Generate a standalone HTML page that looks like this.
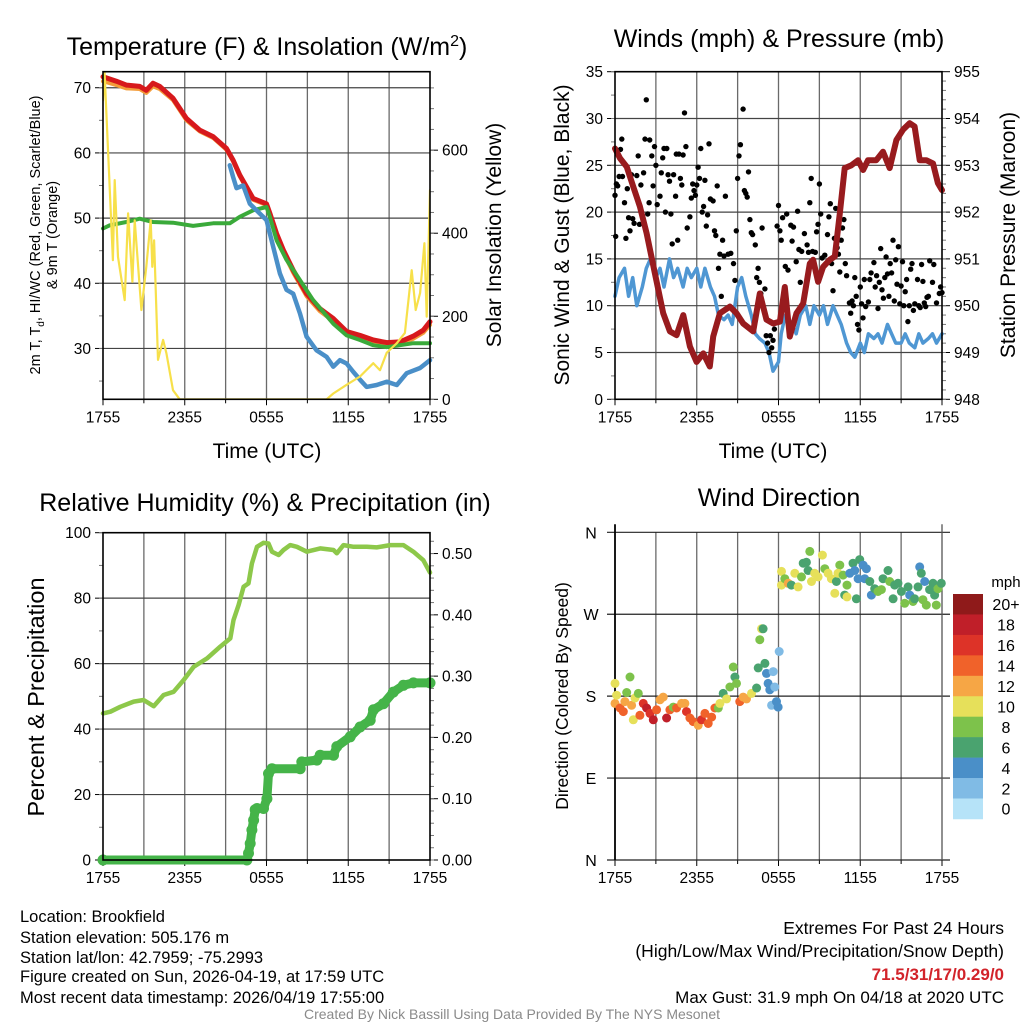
<!DOCTYPE html>
<html><head><meta charset="utf-8"><title>Brookfield Meteogram</title>
<style>
html,body{margin:0;padding:0;background:#fff;}
svg{display:block;font-family:"Liberation Sans",sans-serif;}
.tk{font-size:15.5px;fill:#000;}
.ttl{font-size:25px;fill:#000;}
.lab{font-size:21px;fill:#000;}
.info{font-size:16.5px;fill:#000;}
</style></head>
<body>
<svg id="chart" width="1024" height="1024" viewBox="0 0 1024 1024" xmlns="http://www.w3.org/2000/svg"></svg>
<script>
// ---------- DATA ----------
const timeTickLabels = ["1755","2355","0555","1155","1755"];
const timeTickHours = [0,6,12,18,24];
// Panel 1: temperature (F)
const tempT = [0,0.98,1.71,2.69,3.18,3.67,4.16,5.14,6.12,7.10,8.08,9.06,9.55,10.04,11.02,12.0,12.25,12.74,13.23,13.96,14.94,15.92,16.9,17.88,18.86,19.84,20.82,21.8,22.78,23.51,24];
const tempV = [71.7,71,70.4,70.2,69.6,70.7,70.2,68.4,65.3,63.5,62.5,60.7,58.9,56.6,53,52.2,50.7,47.6,45.1,42,38.4,36.1,34.6,32.6,32,31.3,30.9,31.0,31.9,32.8,34.1];
const temp9mV = [71.0,70.4,69.9,69.8,69.2,70.2,69.8,68.1,65.0,63.3,62.3,60.5,58.7,56.4,52.8,52.0,50.4,47.2,44.7,41.6,38.0,35.7,34.2,32.2,31.6,31.0,30.6,30.7,31.5,32.4,33.6];
const dewT = [0,0.49,1.71,2.69,3.67,5.14,6.61,8.08,9.31,10.04,11.02,12.0,12.25,12.74,13.47,14.45,15.43,16.9,17.88,18.86,19.84,20.82,21.8,22.78,24];
const dewV = [48.4,48.9,49.4,49.9,49.4,49.3,48.8,49.2,49.2,50.2,51.2,51.7,50.2,46.6,43.6,40.5,37.4,33.8,32,31.3,30.5,30.2,30.5,30.8,30.8];
const chillT = [9.31,9.55,9.80,10.29,10.78,11.02,12.0,12.49,12.98,13.47,13.96,14.45,14.94,15.68,16.41,16.9,17.39,17.88,18.37,18.86,19.35,20.09,20.82,21.56,22.29,23.27,24];
const chillV = [58.1,56.3,54.6,55.0,52.2,51.7,49.7,45.6,41.5,39,38.4,35.4,31.8,29.7,28.7,27.2,28.2,27.7,26.4,25.2,24.1,24.4,24.9,24.4,26.2,27,28.2];
const solarT = [0,0.12,0.73,0.86,1.10,1.59,1.84,2.16,2.33,2.82,3.18,3.50,3.62,3.75,4.04,4.41,4.65,5.14,5.63,16.41,16.9,17.88,18.86,19.84,20.33,20.82,21.56,22.16,22.66,22.95,23.27,23.59,23.76,24];
const solarV = [720,786,335,528,343,239,448,283,431,215,319,431,319,383,95,143,111,22,0,0,14,35,55,87,70,112,135,160,311,215,256,376,199,504];
const tempTicks = [30,40,50,60,70];
const solarTicks = [0,200,400,600];
// Panel 2: winds & pressure
const windT = [0,0.3,0.7,1,1.3,1.6,2,2.3,2.6,3,3.3,3.6,4,4.3,4.6,5,5.3,5.6,6,6.3,6.6,7,7.3,7.6,8,8.3,8.6,9,9.3,9.6,10,10.3,10.6,11,11.3,11.6,12,12.2,12.5,13,13.3,13.6,14,14.3,14.6,15,15.3,15.6,16,16.3,16.6,17,17.3,17.6,18,18.3,18.6,19,19.3,19.6,20,20.3,20.6,21,21.3,21.6,22,22.3,22.6,23,23.3,23.6,24];
const windV = [11,13,14,11,13,10,12,14,15,13,14,12,15,13,14,12,14,13,14,12,14,12,11,9,8.5,9,8,12,13,11,9,7,6.5,6,5,3,4,7,9,8,7,9,10,8,10,9,10,8,10,9,8,6,5,4.5,6,5,7,6.5,7,6,8,7,6,6,7,6,5.5,7,6,6.5,7,6,7];
const gustT = [0,0.05,0.1,0.2,0.3,0.4,0.5,0.55,0.7,0.8,0.9,1.0,1.1,1.2,1.3,1.4,1.6,1.7,1.8,1.9,2.1,2.2,2.3,2.4,2.5,2.55,2.7,2.8,2.9,3.0,3.1,3.3,3.4,3.5,3.6,3.7,3.8,3.9,4.0,4.1,4.2,4.3,4.45,4.5,4.6,4.7,4.8,4.9,5.0,5.1,5.2,5.3,5.5,5.6,5.7,5.8,5.9,6.0,6.1,6.2,6.3,6.4,6.5,6.6,6.7,6.8,6.9,7.0,7.2,7.3,7.4,7.5,7.6,7.7,7.8,7.9,8.0,8.1,8.3,8.5,8.7,8.8,8.9,9.0,9.1,9.2,9.4,9.5,9.6,9.7,9.8,9.9,10.0,10.1,10.3,10.4,10.5,10.6,10.7,10.8,11.0,11.1,11.2,11.3,11.4,11.5,11.6,11.7,11.9,12.0,12.1,12.2,12.3,12.5,12.6,12.7,12.9,13.0,13.1,13.3,13.4,13.5,13.6,13.7,13.9,14.1,14.2,14.3,14.4,14.5,14.7,14.8,14.9,15.0,15.1,15.2,15.4,15.6,15.7,15.8,15.9,16.0,16.1,16.2,16.3,16.4,16.5,16.6,16.7,16.8,16.9,17.0,17.2,17.3,17.4,17.5,17.6,17.7,17.8,17.9,18.0,18.1,18.2,18.3,18.4,18.6,18.7,18.8,19.0,19.1,19.2,19.3,19.4,19.5,19.6,19.7,19.8,19.9,20.0,20.1,20.2,20.3,20.4,20.5,20.6,20.7,20.8,20.9,21.0,21.1,21.2,21.3,21.4,21.5,21.6,21.7,21.8,21.9,22.0,22.2,22.3,22.4,22.5,22.6,22.7,22.8,22.9,23.0,23.1,23.3,23.4,23.6,23.8,23.9,24];
const gustV = [21.8,17.4,23,22.8,23.8,26.7,27.8,23.8,21,17.2,22.5,19.4,18,24,19.3,18.8,23.9,26,18.7,22.9,24.2,27.8,32,19.8,21,27.7,26,22.8,27,25,20.8,21.7,24.2,25.8,26.8,20,26.8,24,23.3,19.8,16.6,24,21.7,26.2,17,26.2,23.6,22.9,26.1,30.6,27,18.3,19.5,21.5,23,22.3,21.8,22.9,24.8,23.6,26.8,20,20.6,23.4,18.5,19.7,27.3,21.4,21.2,18,17.5,22.8,14,15.5,11,17,15.3,21.7,15.5,15.6,14.5,12.7,18,23.6,26,27.2,31,22.3,22,21.6,24.3,19.2,17.8,17.6,16.5,13,14,12.5,11.3,18.3,11.8,6.8,6,5,6.8,5.5,6.3,7.5,18.5,20.7,18,17,19.4,14.2,19.8,13.8,18.6,16.9,18.4,14.7,20.1,16,12.5,15.8,17.7,16.5,15.7,21,23.6,15.8,15.7,17.9,18.7,23,19.8,15.1,15.4,17.6,19.5,20.9,14.5,11.6,17.2,20.4,16.2,15.5,13.6,17,18.3,19.2,14.5,13.2,10.3,9.2,10.5,10,13,11,8,7.4,12,10.2,8.7,12.8,9.9,10.4,12.8,13.5,14.6,12,13.2,9.7,12.5,16.1,11.7,10.8,13,15.2,13.4,11,14.5,13.5,17,10.5,14.9,12.3,16.3,10.2,12.1,14.7,10,11.5,12.8,8.3,10,13.9,14.5,9.5,10.2,12.8,10,9.8,14.4,12.6,10.3,9.9,10.9,11,14.8,12.5,14.4,10.3,11.3,12,11.4];
const presT = [0,0.37,0.86,1.34,1.83,2.32,2.93,3.54,4.03,4.52,5.01,5.50,5.99,6.48,6.96,7.21,7.70,8.43,8.92,9.41,10.14,10.63,11.12,11.61,12.10,12.46,12.83,13.32,13.81,14.30,14.54,14.91,15.27,15.76,16.13,16.50,16.86,17.35,17.84,18.21,18.57,19.18,19.67,20.16,20.65,21.14,21.63,21.99,22.36,22.85,23.34,23.70,24];
const presV = [953.36,953.15,952.97,952.54,952.12,951.55,950.69,949.84,949.45,949.37,949.8,949.13,948.8,948.98,948.7,949.34,949.84,949.98,949.84,949.62,949.45,950.26,949.7,949.62,949.66,950.4,949.34,949.84,950.05,950.9,950.98,950.51,950.83,950.98,951.05,951.97,952.94,953.0,953.11,952.9,953.11,953.11,953.29,952.94,953.54,953.76,953.9,953.83,953.11,953.11,953.04,952.62,952.47];
const windTicks = [0,5,10,15,20,25,30,35];
const presTicks = [948,949,950,951,952,953,954,955];
// Panel 3: RH & precip
const rhT = [0,0.54,1.27,2.25,2.98,3.72,4.45,5.18,5.92,6.65,7.63,8.61,9.34,9.58,9.95,10.32,10.68,10.93,11.30,11.78,12.15,12.40,12.89,13.25,13.74,14.23,14.96,15.94,16.92,17.16,17.65,18.39,19.36,20.09,21.07,22.05,22.78,23.51,24];
const rhV = [44.8,45.3,46.8,48.4,48.9,47,50.4,51.4,55,59,61.6,65.2,67.7,73.3,77.9,83.5,84.5,90.6,95.7,96.9,96.7,94.2,93.2,94.7,96.2,95.7,94.2,95.2,94.7,93.7,96.2,95.7,95.7,95.5,96.2,96.2,94.2,91.6,87.8];
const precipT = [0,10.56,10.68,10.80,10.93,11.05,11.17,11.30,11.78,12.03,12.15,12.40,14.47,14.59,15.70,15.94,16.92,17.16,18.14,18.87,19.61,19.85,20.58,21.31,22.05,22.78,24];
const precipV = [0,0,0.011,0.027,0.049,0.065,0.082,0.084,0.084,0.10,0.141,0.149,0.149,0.16,0.163,0.171,0.171,0.185,0.201,0.217,0.228,0.245,0.255,0.274,0.285,0.289,0.289];
const rhTicks = [0,20,40,60,80,100];
const precipTicks = [0,0.1,0.2,0.3,0.4,0.5];
const precipTickLabels = ["0.00","0.10","0.20","0.30","0.40","0.50"];
// Panel 4: wind direction
const dirT = [0,0,0.12,0.37,0.61,0.73,0.86,1.1,1.22,1.34,1.47,1.71,1.83,2.08,2.32,2.57,2.81,3.05,3.30,3.54,3.79,4.03,4.28,4.52,4.89,5.13,5.25,5.50,5.74,6.11,6.35,6.60,6.84,7.09,7.33,7.58,7.70,7.94,8.19,8.43,8.68,8.80,8.92,9.16,9.41,9.65,10.02,10.39,10.51,10.63,10.75,10.87,11.0,11.12,11.24,11.36,11.49,11.61,11.73,11.85,11.97,12.05,12.22,12.22,12.46,12.71,12.95,13.20,13.44,13.69,13.81,14.05,14.17,14.30,14.42,14.66,14.91,15.22,15.40,15.64,15.88,16.13,16.25,16.50,16.37,16.74,16.86,17.03,17.03,17.23,17.47,17.60,17.72,17.84,17.96,18.21,18.33,18.45,18.70,18.82,19.06,19.30,19.55,19.67,20.04,20.16,20.41,20.53,20.77,21.02,21.26,21.51,21.63,21.87,21.99,22.24,22.36,22.48,22.60,22.73,22.85,23.09,23.34,23.46,23.58,23.71,23.95];
const dirDeg = [172,194,181,167,163,174,184,201,170,154,178,183,159,172,167,161,154,165,176,179,156,165,168,167,172,172,163,156,152,148,154,161,150,157,167,167,172,183,177,190,212,201,194,174,179,177,183,189,211,242,254,254,216,205,194,187,170,207,190,174,168,229,317,302,309,304,302,315,300,311,326,327,318,339,306,315,311,335,320,315,309,293,306,324,315,313,291,302,289,315,326,318,287,309,330,324,309,320,306,291,298,295,297,309,318,306,287,302,304,295,282,300,291,284,287,300,322,315,286,306,280,297,304,291,280,298,304];
const dirSpd = [12,10,10,14,14,12,8,8,12,10,10,8,14,16,18,16,18,14,12,12,18,14,8,14,12,12,16,14,14,12,16,14,14,14,14,8,10,6,10,8,8,6,8,14,12,12,10,6,6,8,10,6,6,4,4,4,2,2,2,4,4,2,10,10,8,12,6,10,10,8,6,6,6,8,10,10,10,10,8,10,10,10,6,8,10,8,6,8,10,4,6,4,6,4,6,4,4,4,6,4,6,8,8,6,6,8,6,6,6,6,8,6,4,8,6,6,4,6,8,4,8,6,6,6,8,8,6];
const dirTicks = [0,90,180,270,360];
const dirTickLabels = ["N","E","S","W","N"];
const speedBins = ["0","2","4","6","8","10","12","14","16","18","20+"];
const speedColors = ["#b6e3f8","#80bbe5","#4a8fc8","#4aa36f","#7dc24b","#e6e05a","#f6a645","#f0622a","#dd3328","#c01f29","#8f1a1a"];

// ---------- HELPERS ----------
const NS = "http://www.w3.org/2000/svg";
const svg = document.getElementById("chart");
function mk(tag, attrs, name, parent) {
  const el = document.createElementNS(NS, tag);
  for (const k in attrs) el.setAttribute(k, attrs[k]);
  
  
  (parent || svg).appendChild(el);
  return el;
}
function txt(s, x, y, cls, name, extra) {
  const t = mk("text", Object.assign({x: x, y: y, class: cls}, extra || {}), name);
  t.textContent = s;
  return t;
}
function scale(d0, d1, r0, r1) { return v => r0 + (v - d0) / (d1 - d0) * (r1 - r0); }
function pathD(xs, ys, fx, fy) {
  return xs.map((t, i) => (i ? "L" : "M") + fx(t).toFixed(1) + " " + fy(ys[i]).toFixed(1)).join(" ");
}

function panel(p) {
  const g = mk("g", {}, p.name);
  const fx = scale(0, 24, p.x0, p.x1);
  for (let h = 3; h < 24; h += 3) {
    mk("line", {x1: fx(h), x2: fx(h), y1: p.y0, y2: p.y1, stroke: "#6a6a6a", "stroke-width": 1.3}, "vertical-gridline", g);
  }
  timeTickHours.forEach((h, i) => {
    mk("line", {x1: fx(h), x2: fx(h), y1: p.y1, y2: p.y1 + 6, stroke: "#000", "stroke-width": 1}, "x-tick", g);
    txt(timeTickLabels[i], fx(h), p.y1 + 23, "tk", "x-tick-label", {"text-anchor": "middle"});
  });
  for (let h = 3; h < 24; h += 6) mk("line", {x1: fx(h), x2: fx(h), y1: p.y1, y2: p.y1 + 4, stroke: "#000"}, "x-minor-tick", g);
  return {g, fx};
}
function frame(p, g) {
  mk("rect", {x: p.x0, y: p.y0, width: p.x1 - p.x0, height: p.y1 - p.y0, fill: "none", stroke: "#000", "stroke-width": 1.6}, "plot-frame", g);
}
function leftAxis(p, g, ticks, labels, fy, grid, minorStep, d0, d1) {
  ticks.forEach((v, i) => {
    if (grid && v > d0 + 1e-9 && v < d1 - 1e-9) mk("line", {x1: p.x0, x2: p.x1, y1: fy(v), y2: fy(v), stroke: "#444", "stroke-width": 1.2}, "horizontal-gridline", g);
    mk("line", {x1: p.x0 - 8, x2: p.x0, y1: fy(v), y2: fy(v), stroke: "#000"}, "y-tick", g);
    txt(labels[i], p.x0 - 12, fy(v) + 5.5, "tk", "y-tick-label", {"text-anchor": "end"});
  });
  if (minorStep) for (let v = Math.ceil(d0 / minorStep) * minorStep; v <= d1; v += minorStep) {
    mk("line", {x1: p.x0 - 4, x2: p.x0, y1: fy(v), y2: fy(v), stroke: "#777"}, "y-minor-tick", g);
  }
}
function rightAxis(p, g, ticks, labels, fy, minorStep, d0, d1) {
  ticks.forEach((v, i) => {
    mk("line", {x1: p.x1, x2: p.x1 + 8, y1: fy(v), y2: fy(v), stroke: "#000"}, "y2-tick", g);
    txt(labels[i], p.x1 + 12, fy(v) + 5.5, "tk", "y2-tick-label", {"text-anchor": "start"});
  });
  if (minorStep) for (let v = Math.ceil(d0 / minorStep) * minorStep; v <= d1; v += minorStep) {
    mk("line", {x1: p.x1, x2: p.x1 + 4, y1: fy(v), y2: fy(v), stroke: "#777"}, "y2-minor-tick", g);
  }
}
function poly(g, xs, ys, fx, fy, color, w, name) {
  return mk("path", {d: pathD(xs, ys, fx, fy), fill: "none", stroke: color, "stroke-width": w, "stroke-linejoin": "round", "stroke-linecap": "round"}, name, g);
}
function vtext(s, x, y, cls, name, size) {
  const t = txt(s, 0, 0, cls, name, {"text-anchor": "middle", transform: "translate(" + x + "," + y + ") rotate(-90)"});
  if (size) t.style.fontSize = size + "px";
  return t;
}

// ---------- PANEL 1 ----------
(function () {
  const p = {name: "temperature-panel", x0: 103, x1: 430, y0: 71.7, y1: 399.3};
  const {g, fx} = panel(p);
  const fy = scale(22.2, 72.46, p.y1, p.y0);
  const fs = scale(0, 789, p.y1, p.y0);
  leftAxis(p, g, tempTicks, tempTicks.map(String), fy, true, 5, 22.2, 72.4);
  rightAxis(p, g, solarTicks, solarTicks.map(String), fs, 50, 0, 789);
  poly(g, tempT, temp9mV, fx, fy, "#f39c3a", 4, "9m-temperature-line");
  poly(g, tempT, tempV, fx, fy, "#d7191c", 5, "temperature-line");
  poly(g, dewT, dewV, fx, fy, "#3aaa3a", 4, "dewpoint-line");
  poly(g, chillT, chillV, fx, fy, "#4a8fc8", 4.5, "wind-chill-line");
  const cp = mk("clipPath", {id: "clip1"}, "clip", g);
  mk("rect", {x: p.x0, y: p.y0, width: p.x1 - p.x0, height: p.y1 - p.y0}, "clip-rect", cp);
  const sl = poly(g, solarT, solarV, fx, fs, "#f7e04a", 2.2, "solar-insolation-line");
  sl.setAttribute("clip-path", "url(#clip1)");
  frame(p, g);
  const t = txt("Temperature (F) & Insolation (W/m", 267, 55, "ttl", "panel-title", {"text-anchor": "middle"});
  const sup = document.createElementNS(NS, "tspan"); sup.setAttribute("dy", "-9"); sup.setAttribute("style", "font-size:16px"); sup.textContent = "2"; t.appendChild(sup);
  const cl = document.createElementNS(NS, "tspan"); cl.setAttribute("dy", "9"); cl.textContent = ")"; t.appendChild(cl);
  txt("Time (UTC)", 267, 458, "lab", "x-axis-title", {"text-anchor": "middle"});
  const yl = vtext("2m T, T", 40, 235, "tk", "y-axis-title", 14.5);
  const sb = document.createElementNS(NS, "tspan"); sb.setAttribute("dy", "4"); sb.setAttribute("style", "font-size:10px"); sb.textContent = "d"; yl.appendChild(sb);
  const rest = document.createElementNS(NS, "tspan"); rest.setAttribute("dy", "-4"); rest.textContent = ", HI/WC (Red, Green, Scarlet/Blue)"; yl.appendChild(rest);
  vtext("& 9m T (Orange)", 57, 235, "tk", "y-axis-title-line2", 14.5);
  vtext("Solar Insolation (Yellow)", 501, 235, "lab", "y2-axis-title");
})();

// ---------- PANEL 2 ----------
(function () {
  const p = {name: "winds-panel", x0: 615, x1: 942, y0: 71.7, y1: 399.3};
  const {g, fx} = panel(p);
  const fy = scale(0, 35, p.y1, p.y0);
  const fp = scale(948, 955, p.y1, p.y0);
  leftAxis(p, g, windTicks, windTicks.map(String), fy, true, 2.5, 0, 35);
  rightAxis(p, g, presTicks, presTicks.map(String), fp, 0.2, 948, 955);
  poly(g, windT, windV, fx, fy, "#4f97d3", 3.5, "sonic-wind-line");
  gustT.forEach((t, i) => {
    mk("circle", {cx: fx(t).toFixed(1), cy: fy(gustV[i]).toFixed(1), r: 2.7, fill: "#000"}, "gust-point", g);
  });
  poly(g, presT, presV, fx, fp, "#981b1e", 6, "pressure-line");
  frame(p, g);
  txt("Winds (mph) & Pressure (mb)", 779, 47, "ttl", "panel-title", {"text-anchor": "middle"});
  txt("Time (UTC)", 773, 458, "lab", "x-axis-title", {"text-anchor": "middle"});
  vtext("Sonic Wind & Gust (Blue, Black)", 569, 235, "lab", "y-axis-title");
  vtext("Station Pressure (Maroon)", 1015, 235, "lab", "y2-axis-title");
})();

// ---------- PANEL 3 ----------
(function () {
  const p = {name: "humidity-panel", x0: 103, x1: 430, y0: 532.7, y1: 860};
  const {g, fx} = panel(p);
  const fy = scale(0, 100, p.y1, p.y0);
  const fr = scale(0, 0.534, p.y1, p.y0);
  leftAxis(p, g, rhTicks, rhTicks.map(String), fy, true, 10, 0, 100);
  rightAxis(p, g, precipTicks, precipTickLabels, fr, 0.02, 0, 0.534);
  poly(g, rhT, rhV, fx, fy, "#8dc84a", 4.5, "relative-humidity-line");
  poly(g, precipT, precipV, fx, fr, "#45b449", 9, "precipitation-line");
  precipT.forEach((t, i) => {
    mk("circle", {cx: fx(t).toFixed(1), cy: fr(precipV[i]).toFixed(1), r: 5.5, fill: "#45b449"}, "precip-point", g);
  });
  frame(p, g);
  txt("Relative Humidity (%) & Precipitation (in)", 265, 511, "ttl", "panel-title", {"text-anchor": "middle"});
  vtext("Percent & Precipitation", 44, 697, "lab", "y-axis-title", 23.5);
})();

// ---------- PANEL 4 ----------
(function () {
  const p = {name: "wind-direction-panel", x0: 615, x1: 942, y0: 532.3, y1: 860};
  const {g, fx} = panel(p);
  const fy = scale(0, 360, p.y1, p.y0);
  dirTicks.forEach((v, i) => {
    mk("line", {x1: p.x0 - 8, x2: p.x1 + 8, y1: fy(v), y2: fy(v), stroke: "#222", "stroke-width": 1.2}, "direction-gridline", g);
    txt(dirTickLabels[i], p.x0 - 24, fy(v) + 6, "tk", "y-tick-label", {"text-anchor": "middle", style: "font-size:16px"});
  });
  mk("line", {x1: p.x0, x2: p.x0, y1: p.y0 - 8, y2: p.y1, stroke: "#000", "stroke-width": 1.8}, "left-axis-line", g);
  mk("line", {x1: p.x1, x2: p.x1, y1: p.y0 - 8, y2: p.y1, stroke: "#555", "stroke-width": 1.3}, "right-axis-line", g);
  dirT.forEach((t, i) => {
    const b = Math.min(10, Math.floor(dirSpd[i] / 2));
    mk("circle", {cx: fx(t).toFixed(1), cy: fy(dirDeg[i]).toFixed(1), r: 4.5, fill: speedColors[b]}, "direction-point", g);
  });
  txt("Wind Direction", 779, 506, "ttl", "panel-title", {"text-anchor": "middle"});
  vtext("Direction (Colored By Speed)", 568, 696, "lab", "y-axis-title", 17.5);
  const cb = mk("g", {}, "speed-colorbar");
  const top = 594, bh = 20.45;
  for (let k = 10; k >= 0; k--) {
    const y = top + (10 - k) * bh;
    mk("rect", {x: 953, y: y, width: 30, height: bh + 0.3, fill: speedColors[k]}, "colorbar-box", cb);
    txt(speedBins[k], 1006, y + bh / 2 + 6, "tk", "colorbar-label", {"text-anchor": "middle", style: "font-size:16px"});
  }
  txt("mph", 1006, 587, "tk", "colorbar-title", {"text-anchor": "middle", style: "font-size:15px"});
})();

// ---------- INFO TEXT ----------
const leftInfo = ["Location: Brookfield","Station elevation: 505.176 m","Station lat/lon: 42.7959; -75.2993","Figure created on Sun, 2026-04-19, at 17:59 UTC","Most recent data timestamp: 2026/04/19 17:55:00"];
const leftY = [922, 943, 963, 982, 1003];
leftInfo.forEach((s, i) => txt(s, 20, leftY[i], "info", "station-info-line"));
txt("Extremes For Past 24 Hours", 1004, 934, "info", "extremes-title", {"text-anchor": "end", style: "font-size:17.5px"});
txt("(High/Low/Max Wind/Precipitation/Snow Depth)", 1004, 957, "info", "extremes-legend", {"text-anchor": "end", style: "font-size:17.5px"});
txt("71.5/31/17/0.29/0", 1004, 980, "info", "extremes-values", {"text-anchor": "end", style: "font-size:17px;fill:#d2232a;font-weight:bold"});
txt("Max Gust: 31.9 mph On 04/18 at 2020 UTC", 1004, 1003, "info", "max-gust", {"text-anchor": "end", style: "font-size:17px"});
txt("Created By Nick Bassill Using Data Provided By The NYS Mesonet", 512, 1019, "info", "credit-line", {"text-anchor": "middle", style: "font-size:14px;fill:#8a8a8a"});
</script>
</body></html>
